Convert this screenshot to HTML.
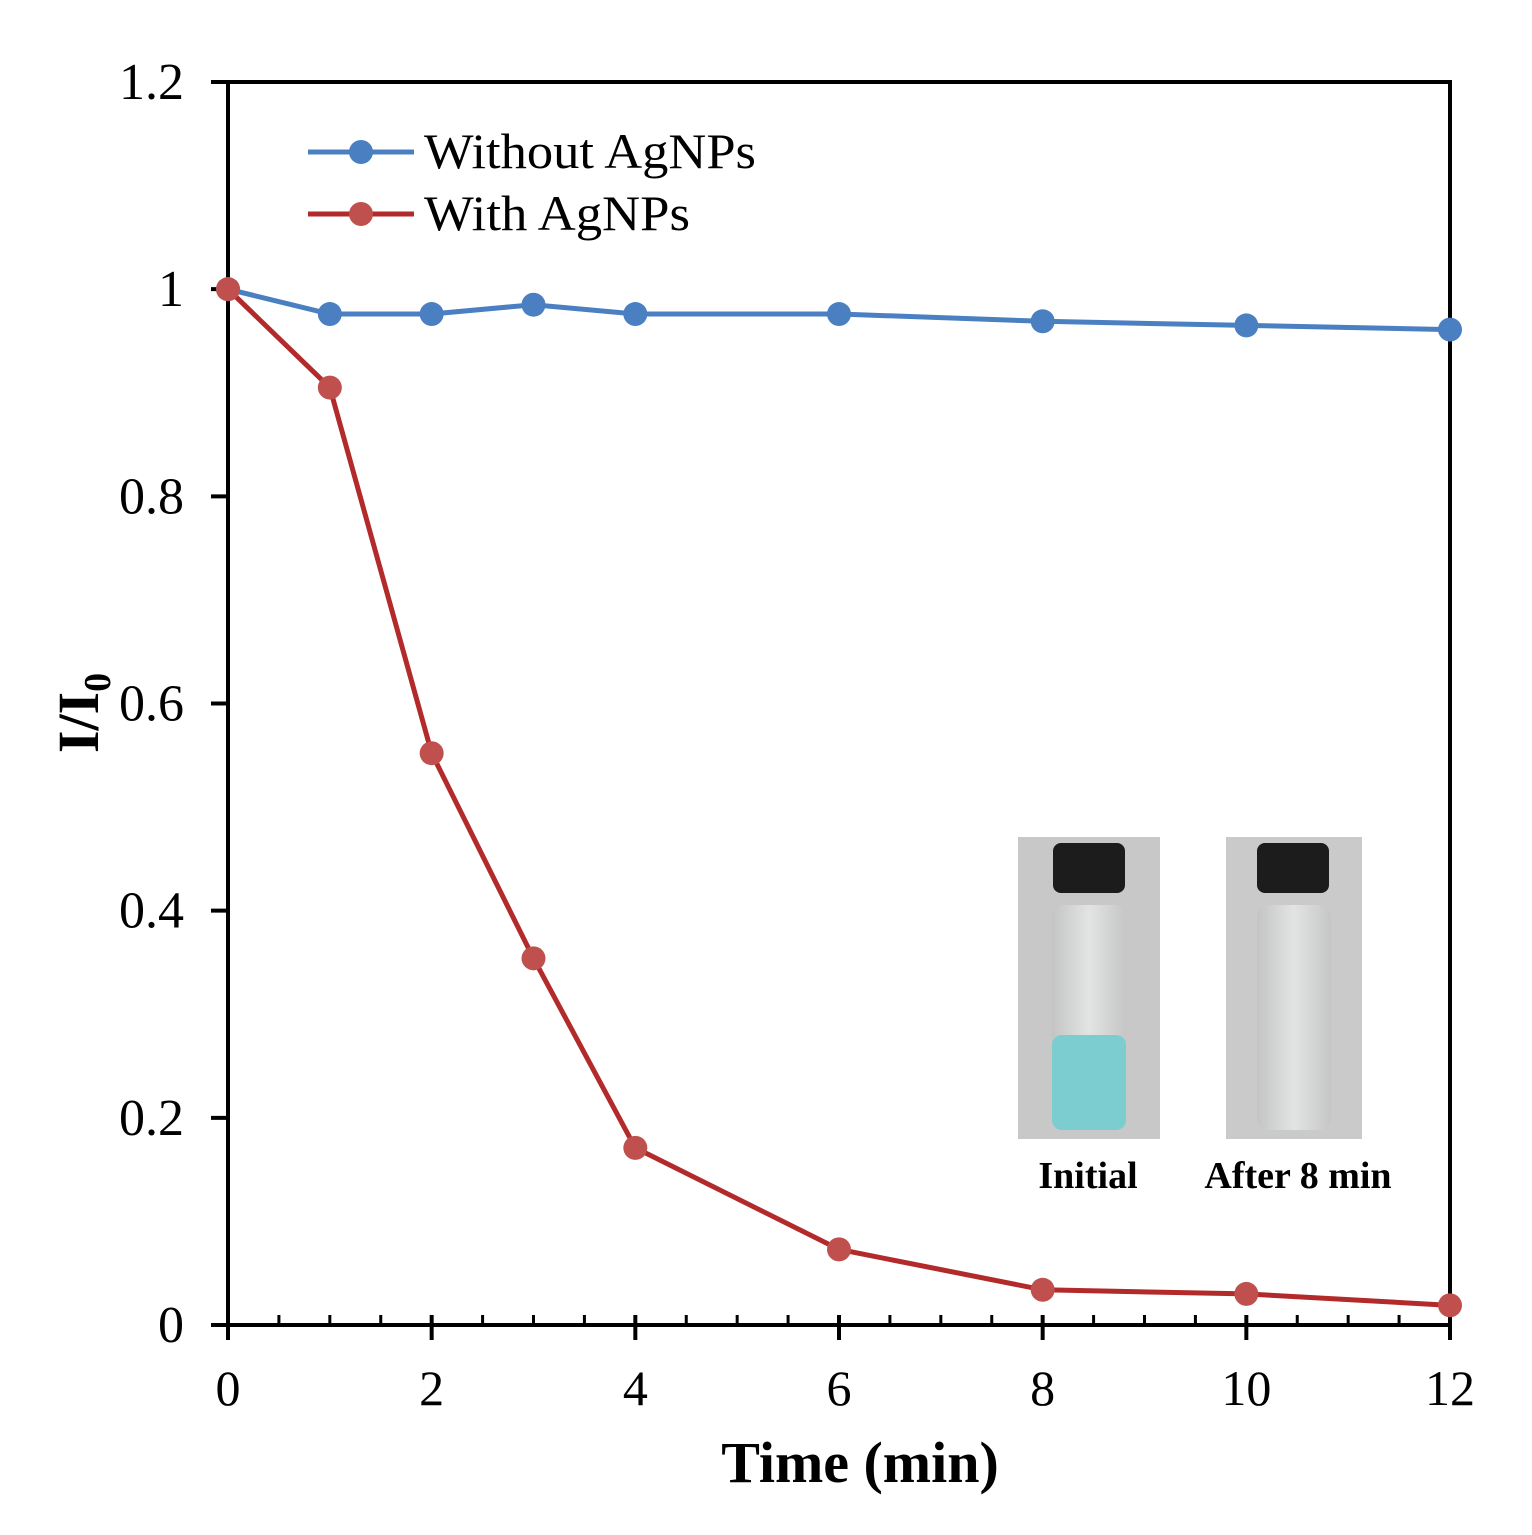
<!DOCTYPE html>
<html><head><meta charset="utf-8"><style>
html,body{margin:0;padding:0;background:#fff;}
svg{display:block;font-family:"Liberation Serif",serif;}
</style></head><body>
<svg id="chart" width="1532" height="1535" viewBox="0 0 1532 1535" xmlns="http://www.w3.org/2000/svg">
<defs>
<linearGradient id="glass" x1="0" x2="1"><stop offset="0" stop-color="#c4c4c4"/><stop offset="0.5" stop-color="#e2e4e4"/><stop offset="1" stop-color="#c6c6c6"/></linearGradient>
</defs>
<g id="axes"></g>
<g id="inset">
  <rect x="1018" y="837" width="142" height="302" fill="#c8c8c8"/>
  <rect x="1052" y="905" width="74" height="225" rx="12" fill="url(#glass)"/>
  <rect x="1052" y="1035" width="74" height="95" rx="10" fill="#7ccdd0"/>
  <rect x="1053" y="843" width="72" height="50" rx="8" fill="#1c1c1c"/>
  <rect x="1226" y="837" width="136" height="302" fill="#cacaca"/>
  <rect x="1257" y="905" width="74" height="225" rx="12" fill="url(#glass)"/>
  <rect x="1257" y="843" width="72" height="50" rx="8" fill="#1c1c1c"/>
  <text x="1088" y="1188" font-size="38" font-weight="bold" text-anchor="middle">Initial</text>
  <text x="1298" y="1188" font-size="38" font-weight="bold" text-anchor="middle">After 8 min</text>
</g>
<g id="series"></g>
<g id="legend">
  <g>
    <line x1="308" y1="152" x2="414" y2="152" stroke="#4a7fc1" stroke-width="5"/>
    <circle cx="361" cy="152" r="12" fill="#4a7fc1"/>
    <text x="424" y="168" font-size="50" textLength="332" lengthAdjust="spacingAndGlyphs">Without AgNPs</text>
  </g>
  <g>
    <line x1="308" y1="214" x2="414" y2="214" stroke="#b22a2a" stroke-width="5"/>
    <circle cx="361" cy="214" r="12" fill="#c0504d"/>
    <text x="424" y="230" font-size="50" textLength="266" lengthAdjust="spacingAndGlyphs">With AgNPs</text>
  </g>
</g>
<text x="860" y="1482" font-size="58" font-weight="bold" text-anchor="middle">Time (min)</text>
<text transform="translate(98,713) rotate(-90)" font-size="58" font-weight="bold" text-anchor="middle">I/I<tspan font-size="38" dy="12">0</tspan></text>
<script>
const times = [0, 1, 2, 3, 4, 6, 8, 10, 12];
const withoutAgNPs = [1, 0.976, 0.976, 0.985, 0.976, 0.976, 0.969, 0.965, 0.961];
const withAgNPs = [1, 0.905, 0.552, 0.354, 0.171, 0.073, 0.034, 0.03, 0.019];
const xTicks = [0, 2, 4, 6, 8, 10, 12];
const yTicks = [0, 0.2, 0.4, 0.6, 0.8, 1, 1.2];
const yTickLabels = ["0", "0.2", "0.4", "0.6", "0.8", "1", "1.2"];

const X0=228, X1=1450, Y0=1325, Y1=82;
const xs = v => X0 + (v/12)*(X1-X0);
const ys = v => Y0 - (v/1.2)*(Y0-Y1);
const NS="http://www.w3.org/2000/svg";
function mk(tag, attrs, parent){const e=document.createElementNS(NS,tag);for(const k in attrs)e.setAttribute(k,attrs[k]);parent.appendChild(e);return e;}
const axes=document.getElementById('axes');
let f=mk('rect',{x:X0,y:Y1,width:X1-X0,height:Y0-Y1,fill:'none',stroke:'#000','stroke-width':4},axes);


for(let v=0.5; v<12; v+=0.5){
  if(v%2===0) continue;
  const t=mk('line',{x1:xs(v),x2:xs(v),y1:Y0,y2:Y0-10,stroke:'#000','stroke-width':3},axes);
  
  
}
xTicks.forEach(v=>{
  const t=mk('line',{x1:xs(v),x2:xs(v),y1:Y0-10,y2:Y0+15,stroke:'#000','stroke-width':4},axes);
  
  
  const l=mk('text',{x:xs(v),y:Y0+80,'font-size':50,'text-anchor':'middle'},axes);
  l.textContent=v;
  
  
});
yTicks.forEach((v,i)=>{
  const t=mk('line',{x1:X0-17,x2:X0,y1:ys(v),y2:ys(v),stroke:'#000','stroke-width':4},axes);
  
  
  const l=mk('text',{x:184,y:ys(v)+17,'font-size':52,'text-anchor':'end'},axes);
  l.textContent=yTickLabels[i];
  
  
});
const sg=document.getElementById('series');
function series(vals,lineColor,dotColor,name){
  const g=mk('g',{},sg);
  
  
  const p=mk('polyline',{points:times.map((t,i)=>xs(t)+','+ys(vals[i])).join(' '),fill:'none',stroke:lineColor,'stroke-width':5},g);
  
  
  times.forEach((t,i)=>{
    const c=mk('circle',{cx:xs(t),cy:ys(vals[i]),r:12,fill:dotColor},g);
    
    
  });
}
series(withoutAgNPs,'#4a7fc1','#4a7fc1','series-without-agnps');
series(withAgNPs,'#b22a2a','#c0504d','series-with-agnps');
</script>
</svg>
</body></html>
